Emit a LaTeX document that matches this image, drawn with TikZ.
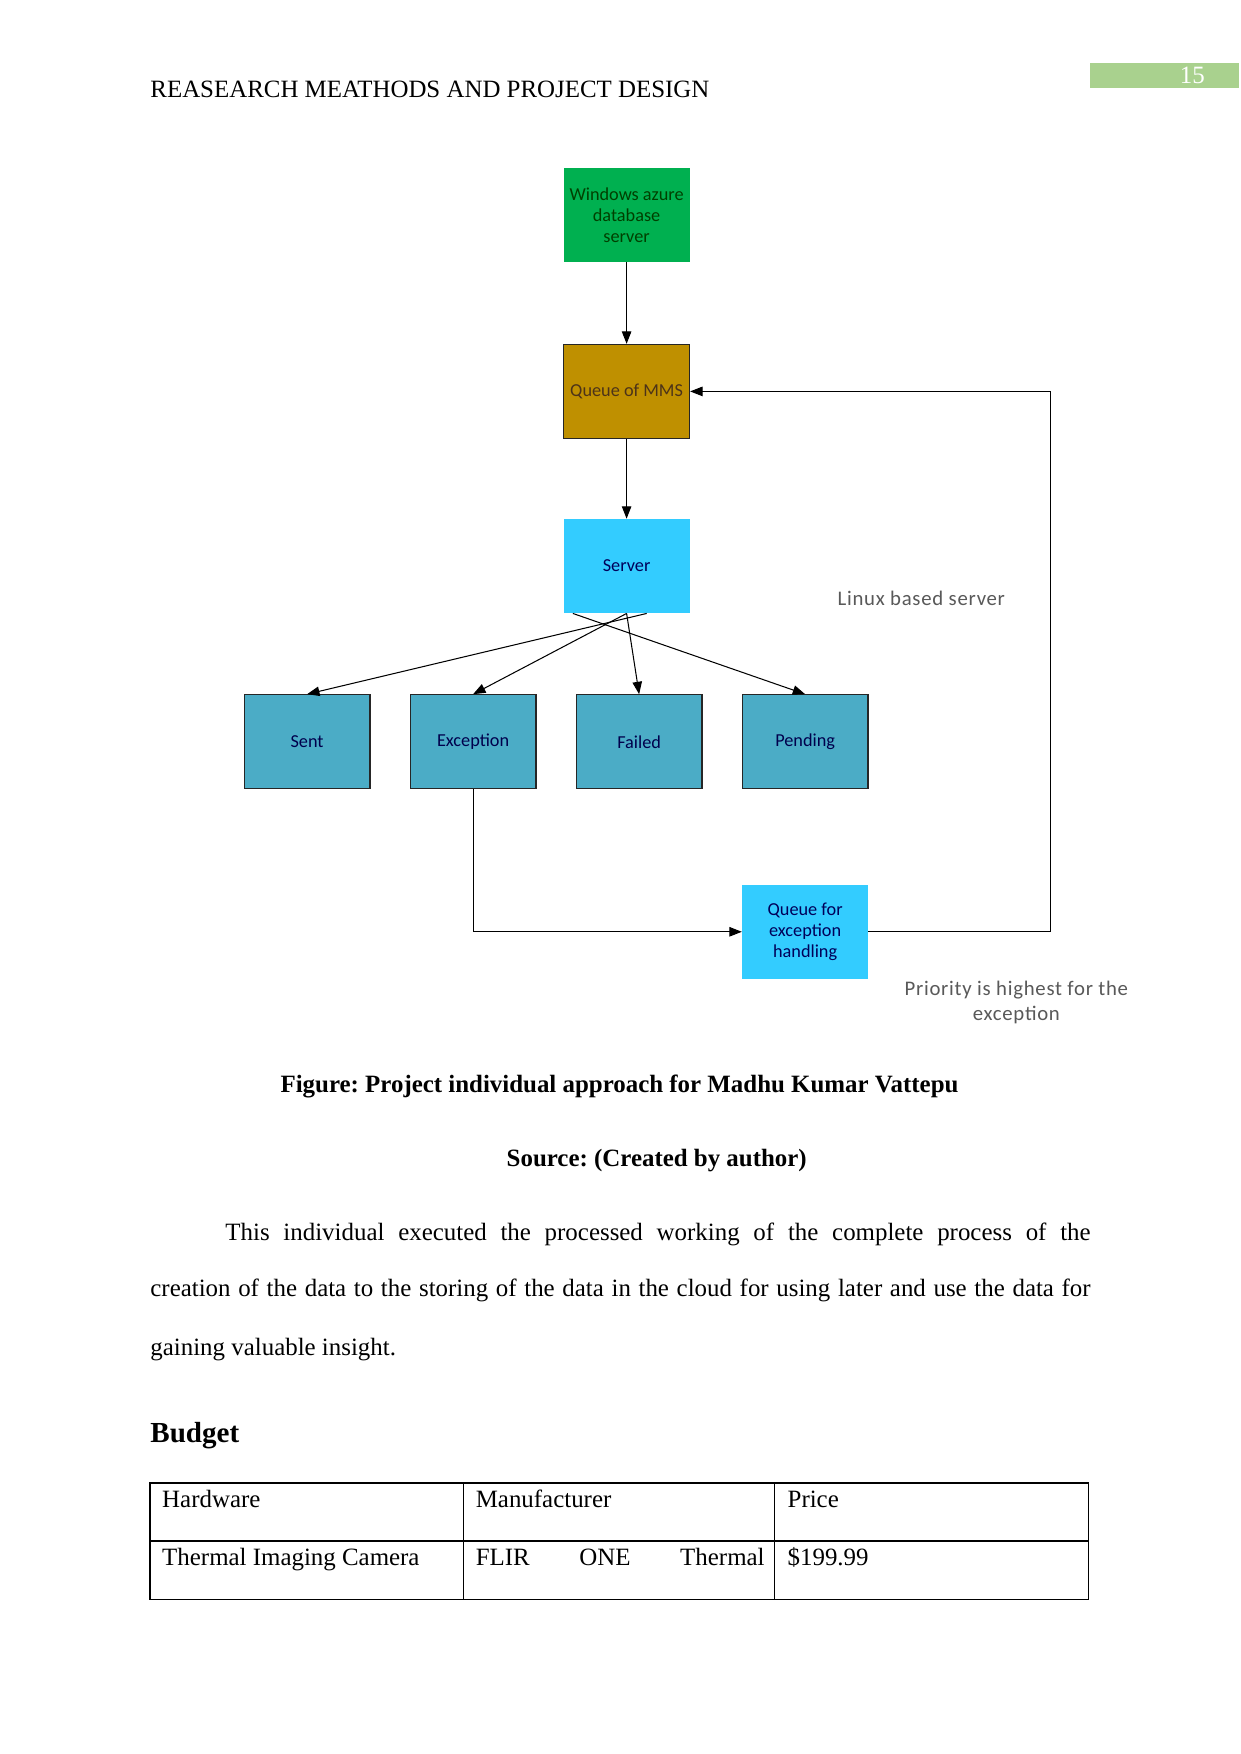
\documentclass[tikz,border=0pt]{standalone}
\usepackage{fontspec}
\setmainfont{Liberation Serif}
\newfontfamily\boxfont{Carlito}
\newfontfamily\notefont[LetterSpace=3.5]{Carlito}
\usetikzlibrary{positioning, arrows.meta, calc}
\definecolor{azuregreen}{HTML}{00B050}
\definecolor{queuegold}{HTML}{BF9000}
\definecolor{serverblue}{HTML}{33CCFF}
\definecolor{statusteal}{HTML}{4BACC6}
\definecolor{pagegreen}{HTML}{A9D18E}
\definecolor{notegray}{HTML}{595959}
\frenchspacing

\begin{document}
\begin{tikzpicture}[node distance=1.37cm,
  >={Triangle[length=2.1mm, width=1.6mm]},
  box/.style={rectangle, minimum width=2.13cm, minimum height=1.59cm, inner sep=2pt,
    align=center, font=\boxfont\fontsize{8.8}{10.2}\selectfont},
  statusbox/.style={box, fill=statusteal, draw=black!85, line width=0.6pt, text=blue!30!black},
  flow/.style={->, line width=0.5pt},
  note/.style={font=\notefont\fontsize{10}{12.2}\selectfont, text=notegray, align=center},
  pagetext/.style={font=\fontsize{12}{14}\selectfont, inner sep=0pt}
]
\useasboundingbox[fill=white] (0,0) rectangle (21,-29.7);

% page head
\node[pagetext, anchor=base west] (header) at (2.54,-1.65) {REASEARCH MEATHODS AND PROJECT DESIGN};
\node[fill=pagegreen, minimum width=2.52cm, minimum height=0.42cm, inner sep=0pt] (pagebox) at (19.72,-1.28) {};
\node[pagetext, text=white] (pagenum) at (20.19,-1.28) {15};

% diagram
\node[box, fill=azuregreen, text=green!25!black] (azure) at (10.61,-3.64) {Windows azure\\database\\server};
\node[box, fill=queuegold, draw=black!85, line width=0.6pt, text=brown!40!black, below=1.38cm of azure] (mms) {Queue of MMS};
\node[box, fill=serverblue, text=blue!35!black, below=1.35cm of mms] (server) {Server};

\node[statusbox] (sent) at (5.20,-12.56) {Sent};
\node[statusbox, right=0.66cm of sent] (exception) {Exception};
\node[statusbox, right=0.66cm of exception] (failed) {Failed};
\node[statusbox, right=0.66cm of failed] (pending) {Pending};
\node[box, fill=serverblue, text=blue!35!black, below=1.61cm of pending] (qexc) {Queue for\\exception\\handling};

\draw[flow] (azure) -- (mms);
\draw[flow] (mms) -- (server);
\draw[flow] ([xshift=0.34cm]server.south) -- (sent.north);
\draw[flow] (server.south) -- (exception.north);
\draw[flow] (server.south) -- (failed.north);
\draw[flow] ([xshift=-0.91cm]server.south) -- (pending.north);
\draw[flow] (exception.south) |- (qexc.west);
\coordinate (rightedge) at (17.78,0);
\draw[flow] (qexc.east) -| (mms.east -| rightedge) -- (mms.east);

\node[note] (linuxnote) at (15.60,-10.13) {Linux based server};
\node[note] (prionote) at (17.21,-16.97) {Priority is highest for the\\exception};

% text below the figure
\node[pagetext, anchor=base, font=\bfseries\fontsize{12}{14}\selectfont] (caption) at (10.49,-18.50) {Figure: Project individual approach for Madhu Kumar Vattepu};
\node[pagetext, anchor=base, font=\bfseries\fontsize{12}{14}\selectfont] (source) at (11.12,-19.75) {Source: (Created by author)};
\node[pagetext, anchor=base west] (body1) at (3.81,-21.00) {\makebox[14.65cm][s]{This individual executed the processed working of the complete process of the}};
\node[pagetext, anchor=base west] (body2) at (2.54,-21.96) {\makebox[15.92cm][s]{creation of the data to the storing of the data in the cloud for using later and use the data for}};
\node[pagetext, anchor=base west] (body3) at (2.54,-22.95) {gaining valuable insight.};
\node[pagetext, anchor=base west, font=\bfseries\fontsize{14}{16}\selectfont] (budget) at (2.54,-24.42) {Budget};

% budget table
\draw[line width=0.7pt] (2.54,-25.11) rectangle (18.43,-27.08);
\draw[line width=0.7pt] (2.54,-26.09) -- (18.43,-26.09);
\draw[line width=0.4pt] (7.84,-25.11) -- (7.84,-27.08);
\draw[line width=0.4pt] (13.12,-25.11) -- (13.12,-27.08);
\node[pagetext, anchor=base west] (hardware) at (2.74,-25.52) {Hardware};
\node[pagetext, anchor=base west] (maker) at (8.05,-25.52) {Manufacturer};
\node[pagetext, anchor=base west] (price) at (13.33,-25.52) {Price};
\node[pagetext, anchor=base west] (camera) at (2.74,-26.50) {Thermal Imaging Camera};
\node[pagetext, anchor=base west] (flir) at (8.05,-26.50) {\makebox[4.89cm][s]{FLIR ONE Thermal}};
\node[pagetext, anchor=base west] (cost) at (13.33,-26.50) {\$199.99};
\end{tikzpicture}
\end{document}
